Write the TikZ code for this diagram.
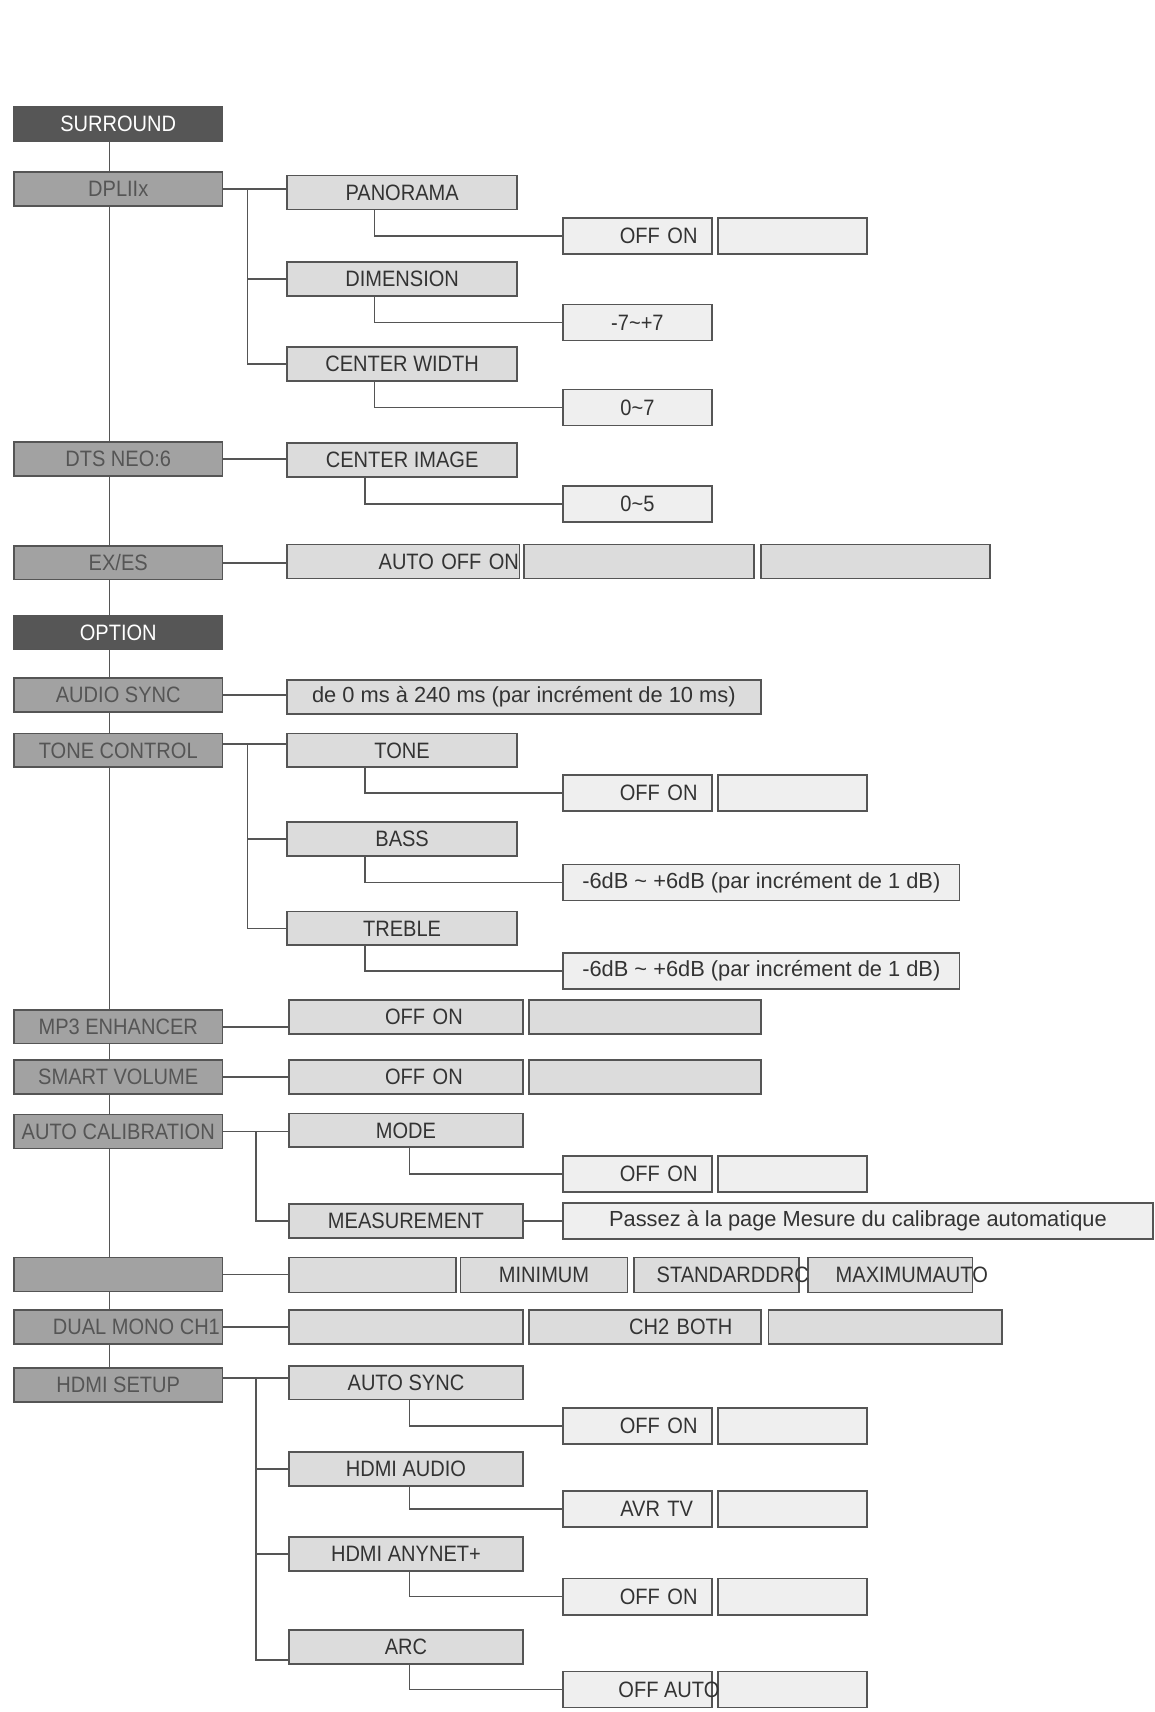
\documentclass[tikz,border=0pt]{standalone}
\usepackage{fontspec}
\setmainfont{Liberation Sans}[FakeStretch=0.9]
\newfontfamily\plainsans{Liberation Sans}
\usetikzlibrary{calc,backgrounds}

\definecolor{headfill}{HTML}{565656}
\definecolor{menufill}{HTML}{A2A2A2}
\definecolor{menutext}{HTML}{555555}
\definecolor{subfill}{HTML}{DCDCDC}
\definecolor{valfill}{HTML}{EFEFEF}
\definecolor{rule}{HTML}{555555}
\definecolor{ink}{HTML}{333333}

\tikzset{
  box/.style={draw=rule, line width=0.8pt, anchor=north west, inner sep=0pt,
    font=\fontsize{10.2pt}{12pt}\selectfont, text=ink, minimum height=15.5pt},
  head/.style={box, fill=headfill, text=white, minimum width=95.5pt},
  menu/.style={box, fill=menufill, text=menutext, minimum width=95.5pt},
  sub/.style={box, fill=subfill, minimum width=105.5pt},
  val/.style={box, fill=valfill, minimum width=68pt, minimum height=16.5pt},
  rgt/.style={text width=#1, align=right},
  lc/.style={font=\plainsans\fontsize{10pt}{12pt}\selectfont},
  ovl/.style={anchor=west, inner sep=0pt, font=\fontsize{10.2pt}{12pt}\selectfont, text=ink},
  wire/.style={draw=rule, line width=0.8pt},
}

\begin{document}
\begin{tikzpicture}[x=0.5pt,y=-0.5pt]
  \useasboundingbox (0,0) rectangle (1057,1568);

  %--- left column ---
  \node[head] (sur)   at (12,97)   {SURROUND};
  \node[menu] (dpl)   at (12,157)  {DPLIIx};
  \node[menu] (dts)   at (12,404)  {DTS NEO:6};
  \node[menu] (exes)  at (12,499)  {EX/ES};
  \node[head] (opt)   at (12,563)  {OPTION};
  \node[menu] (async) at (12,620)  {AUDIO SYNC};
  \node[menu] (tctl)  at (12,671)  {TONE CONTROL};
  \node[menu] (mp3)   at (12,924)  {MP3 ENHANCER};
  \node[menu] (smart) at (12,970)  {SMART VOLUME};
  \node[menu] (acal)  at (12,1020) {AUTO CALIBRATION};
  \node[menu] (drc)   at (12,1151) {};
  \node[menu] (dual)  at (12,1199) {};
  \node[menu] (hdmi)  at (12,1252) {HDMI SETUP};

  %--- DPLIIx ---
  \node[sub] (pan) at (262,160) {PANORAMA};
  \node[sub] (dim) at (262,239) {DIMENSION};
  \node[sub] (cw)  at (262,317) {CENTER WIDTH};
  \node[val, rgt=55pt] (panv) at (515,199) {OFF ON};
  \node[val] (panx) at (657,199) {};
  \node[val] (dimv) at (515,278) {-7\textasciitilde+7};
  \node[val] (cwv)  at (515,356) {0\textasciitilde7};

  %--- DTS NEO:6 and EX/ES ---
  \node[sub] (ci)  at (262,405) {CENTER IMAGE};
  \node[val] (civ) at (515,444) {0\textasciitilde5};
  \node[sub, minimum width=106.5pt, rgt=106pt] (exv1) at (262,498) {AUTO OFF ON};
  \node[sub] (exv2) at (479,498) {};
  \node[sub, minimum width=105pt] (exv3) at (696,498) {};

  %--- AUDIO SYNC and TONE CONTROL ---
  \node[sub, lc, minimum width=217pt] (asv) at (262,622) {de 0 ms à 240 ms (par incrément de 10 ms)};
  \node[sub] (tone) at (262,671) {TONE};
  \node[sub] (bass) at (262,752) {BASS};
  \node[sub] (treb) at (262,834) {TREBLE};
  \node[val, rgt=55pt] (tonev) at (515,709) {OFF ON};
  \node[val] (tonex) at (657,709) {};
  \node[val, lc, minimum width=181.5pt] (bassv) at (515,791) {-6dB \textasciitilde{} +6dB (par incrément de 1 dB)};
  \node[val, lc, minimum width=181.5pt] (trebv) at (515,872) {-6dB \textasciitilde{} +6dB (par incrément de 1 dB)};

  %--- MP3 ENHANCER, SMART VOLUME ---
  \node[sub, minimum width=107pt, rgt=52pt] (mp3v1) at (264,915) {OFF ON};
  \node[sub, minimum width=106pt] (mp3v2) at (484,915) {};
  \node[sub, minimum width=107pt, rgt=52pt] (smv1) at (264,970) {OFF ON};
  \node[sub, minimum width=106pt] (smv2) at (484,970) {};

  %--- AUTO CALIBRATION ---
  \node[sub, minimum width=107pt] (mode) at (264,1019) {MODE};
  \node[sub, minimum width=107pt] (meas) at (264,1102) {MEASUREMENT};
  \node[val, rgt=55pt] (modev) at (515,1058) {OFF ON};
  \node[val] (modex) at (657,1058) {};
  \node[val, lc, minimum width=270pt] (measv) at (515,1101) {Passez à la page Mesure du calibrage automatique};

  %--- DRC row ---
  \node[sub, minimum width=76.5pt, minimum height=16pt] (d1) at (264,1151) {};
  \node[sub, minimum width=76.5pt, minimum height=16pt] (d2) at (421,1151) {MINIMUM};
  \node[sub, minimum width=75.5pt, minimum height=16pt] (d3) at (580,1151) {};
  \node[sub, minimum width=75.5pt, minimum height=16pt] (d4) at (739,1151) {};
  \node[ovl] (d3t) at ($(d3.west)+(10.5pt,0)$) {STANDARDDRC};
  \node[ovl] (d4t) at ($(d4.west)+(13pt,0)$) {MAXIMUMAUTO};

  %--- DUAL MONO row ---
  \node[ovl, text=menutext] (dualt) at ($(dual.west)+(18pt,0)$) {DUAL MONO CH1};
  \node[sub, minimum width=107pt] (dm1) at (264,1199) {};
  \node[sub, minimum width=106pt, rgt=80pt] (dm2) at (484,1199) {CH2 BOTH};
  \node[sub, minimum width=107pt] (dm3) at (703,1199) {};

  %--- HDMI SETUP ---
  \node[sub, minimum width=107pt] (asy)  at (264,1250) {AUTO SYNC};
  \node[sub, minimum width=107pt] (haud) at (264,1329) {HDMI AUDIO};
  \node[sub, minimum width=107pt] (hany) at (264,1407) {HDMI ANYNET+};
  \node[sub, minimum width=107pt] (arc)  at (264,1492) {ARC};
  \node[val, rgt=55pt] (asyv)  at (515,1289) {OFF ON};
  \node[val] (asyx)  at (657,1289) {};
  \node[val, rgt=51pt] (haudv) at (515,1365) {AVR TV};
  \node[val] (haudx) at (657,1365) {};
  \node[val, rgt=55pt] (hanyv) at (515,1445) {OFF ON};
  \node[val] (hanyx) at (657,1445) {};
  \node[val] (arcv)  at (515,1530) {};
  \node[val] (arcx)  at (657,1530) {};
  \node[ovl] (arct) at ($(arcv.west)+(25.5pt,0)$) {OFF AUTO};

  %--- connectors ---
  \begin{scope}[on background layer]
    \draw[wire] ($(sur.south)+(-8,0)$) -- ($(hdmi.north)+(-8,0)$);

    \draw[wire] (dpl.east) -- (dpl.east -| pan.west);
    \draw[wire] ($(dpl.east)+(22,0)$) |- (dim.west);
    \draw[wire] ($(dpl.east)+(22,0)$) |- (cw.west);
    \draw[wire] ($(pan.south west)+(81,0)$) |- (panv.west);
    \draw[wire] ($(dim.south west)+(81,0)$) |- (dimv.west);
    \draw[wire] ($(cw.south west)+(81,0)$) |- (cwv.west);

    \draw[wire] (dts.east) -- (dts.east -| ci.west);
    \draw[wire] ($(ci.south west)+(72,0)$) |- (civ.west);
    \draw[wire] (exes.east) -- (exes.east -| exv1.west);

    \draw[wire] (async.east) -- (async.east -| asv.west);
    \draw[wire] ($(tctl.east)+(0,-6)$) -- ($(tctl.east -| tone.west)+(0,-6)$);
    \draw[wire] ($(tctl.east)+(22,-6)$) |- (bass.west);
    \draw[wire] ($(tctl.east)+(22,-6)$) |- (treb.west);
    \draw[wire] ($(tone.south west)+(72,0)$) |- (tonev.west);
    \draw[wire] ($(bass.south west)+(72,0)$) |- (bassv.west);
    \draw[wire] ($(treb.south west)+(72,0)$) |- (trebv.west);

    \draw[wire] (mp3.east) -- (mp3.east -| mp3v1.west);
    \draw[wire] (smart.east) -- (smart.east -| smv1.west);

    \draw[wire] (acal.east) -- (acal.east -| mode.west);
    \draw[wire] ($(acal.east)+(30,0)$) |- (meas.west);
    \draw[wire] ($(mode.south west)+(111,0)$) |- (modev.west);
    \draw[wire] (meas.east) -- (measv.west);

    \draw[wire] (drc.east) -- (drc.east -| d1.west);
    \draw[wire] (dual.east) -- (dual.east -| dm1.west);

    \draw[wire] ($(hdmi.east)+(0,-6)$) -- ($(hdmi.east -| asy.west)+(0,-6)$);
    \draw[wire] ($(hdmi.east)+(30,-6)$) |- (haud.west);
    \draw[wire] ($(hdmi.east)+(30,-6)$) |- (hany.west);
    \draw[wire] ($(hdmi.east)+(30,-6)$) |- ($(arc.west)+(0,12)$);
    \draw[wire] ($(asy.south west)+(111,0)$) |- (asyv.west);
    \draw[wire] ($(haud.south west)+(111,0)$) |- (haudv.west);
    \draw[wire] ($(hany.south west)+(111,0)$) |- (hanyv.west);
    \draw[wire] ($(arc.south west)+(111,0)$) |- (arcv.west);
  \end{scope}

\end{tikzpicture}
\end{document}
